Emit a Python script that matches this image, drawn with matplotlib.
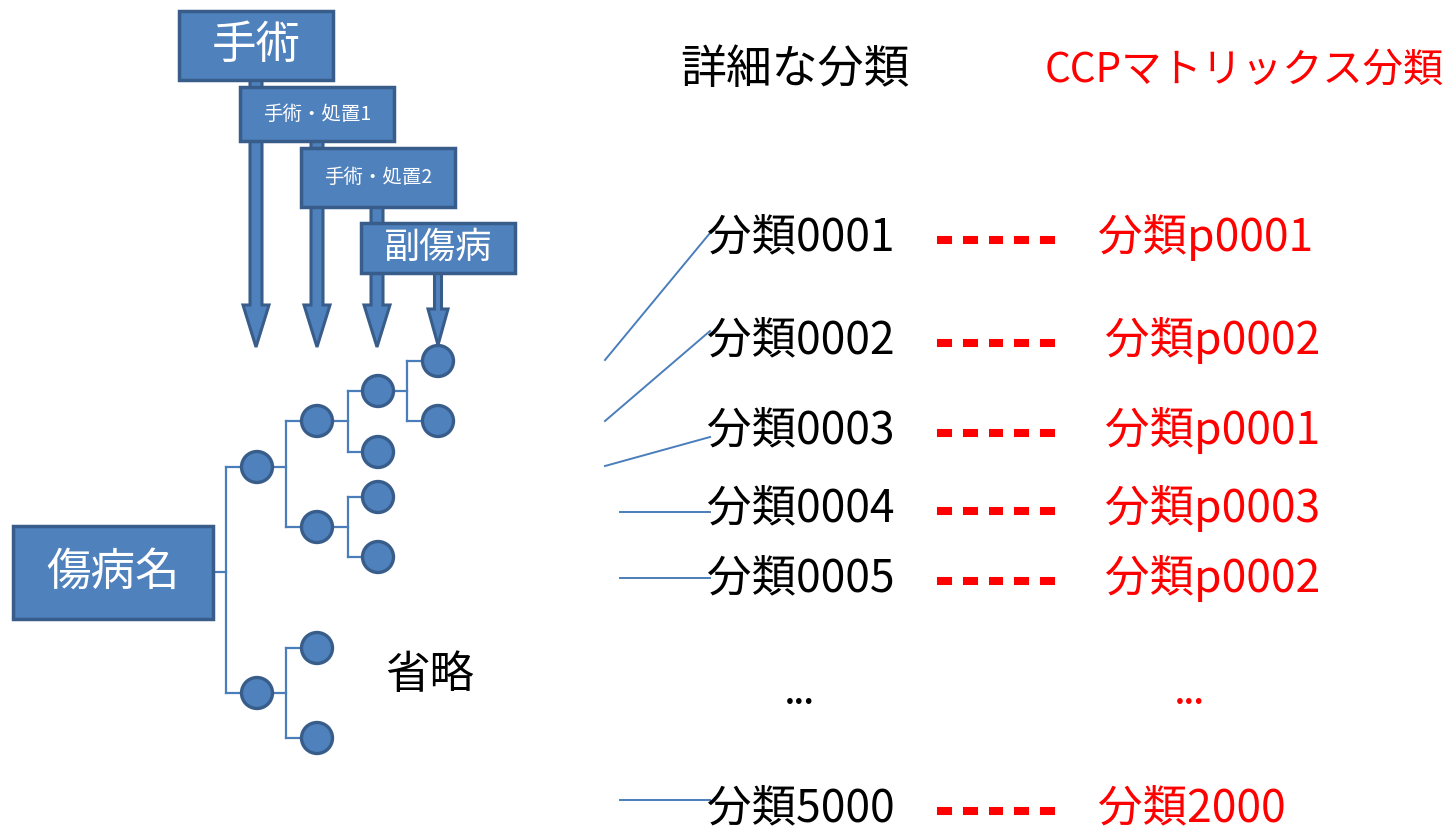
import matplotlib
matplotlib.use("Agg")
import matplotlib.pyplot as plt
import matplotlib.patheffects as pe
from matplotlib.patches import Rectangle, Circle, FancyArrow

plt.rcParams['font.family'] = ['Noto Sans CJK JP', 'DejaVu Sans']

# データ
box_labels = ["手術", "手術・処置1", "手術・処置2", "副傷病"]
root_label = "傷病名"
omit_label = "省略"
col_titles = ["詳細な分類", "CCPマトリックス分類"]
class_labels = ["分類0001", "分類0002", "分類0003", "分類0004", "分類0005", "...", "分類5000"]
ccp_labels = ["分類p0001", "分類p0002", "分類p0001", "分類p0003", "分類p0002", "...", "分類2000"]
link_text = "- - - - -"

# 色
fill_c = "#4F81BD"
edge_c = "#385D8A"
line_c = "#4A7EBB"

fig = plt.figure(figsize=(14.44, 8.30), dpi=100)
ax = fig.add_axes([0, 0, 1, 1])
ax.set_xlim(0, 1444)
ax.set_ylim(830, 0)
ax.axis("off")

# 上の箱 (x, y, w, h, 文字サイズ)
box_geom = [(179, 11, 154, 69, 32), (240, 87, 154, 54, 14),
            (301, 148, 154, 59, 14), (361, 223, 154, 50, 26)]

# 矢印 (x, 始点y, 終点y, 幅, 頭幅, 頭長)
arrow_geom = [(256, 80, 347, 12, 26, 42), (317, 141, 347, 12, 26, 42),
              (377, 207, 347, 12, 26, 42), (438, 273, 345, 7, 20, 36)]

for x, y0, y1, w, hw, hl in arrow_geom:
    ax.add_patch(FancyArrow(x, y0, 0, y1 - y0, width=w, head_width=hw,
                            head_length=hl, length_includes_head=True,
                            facecolor=fill_c, edgecolor=edge_c, linewidth=2.2, zorder=2))

for (x, y, w, h, fs), lab in zip(box_geom, box_labels):
    ax.add_patch(Rectangle((x, y), w, h, facecolor=fill_c, edgecolor=edge_c,
                           linewidth=2.5, zorder=3))
    ax.text(x + w / 2, y + h / 2, lab, color="white", fontsize=fs,
            ha="center", va="center", zorder=4)

# 傷病名の箱
ax.add_patch(Rectangle((13, 526), 200, 93, facecolor=fill_c, edgecolor=edge_c,
                       linewidth=2.5, zorder=3))
ax.text(113, 572, root_label, color="white", fontsize=32, ha="center", va="center", zorder=4)

# 木構造 (親, 分岐x, 子のリスト)
tree = [
    ((213, 572), 226, [(257, 467), (257, 693)]),
    ((257, 467), 286, [(317, 421), (317, 527)]),
    ((257, 693), 286, [(317, 648), (317, 738)]),
    ((317, 421), 348, [(378, 391), (378, 452)]),
    ((317, 527), 348, [(378, 497), (378, 557)]),
    ((378, 391), 407, [(438, 361), (438, 421)]),
]
nodes = []
for (px, py), mx, kids in tree:
    ax.plot([px, mx], [py, py], color=line_c, lw=1.6, zorder=1)
    ys = [k[1] for k in kids]
    ax.plot([mx, mx], [min(ys), max(ys)], color=line_c, lw=1.6, zorder=1)
    for kx, ky in kids:
        ax.plot([mx, kx], [ky, ky], color=line_c, lw=1.6, zorder=1)
        nodes.append((kx, ky))
for kx, ky in nodes:
    ax.add_patch(Circle((kx, ky), 15.5, facecolor=fill_c, edgecolor=edge_c,
                        linewidth=2.4, zorder=3))

ax.text(385, 675, omit_label, fontsize=32, ha="left", va="center", color="black")

# 右側
ax.text(680, 70, col_titles[0], fontsize=33, ha="left", va="center", color="black")
ax.text(1045, 70, col_titles[1], fontsize=29, ha="left", va="center", color="red")

row_y = [237, 340, 430, 508, 578, 695, 808]
ccp_x = [1098, 1105, 1105, 1105, 1105, 1175, 1098]
link_start = [(605, 360), (605, 421), (605, 466), (620, 512), (620, 578), None, (620, 800)]
link_end_dy = [-4, -9, 7, 4, 0, 0, -8]
thick = [pe.withStroke(linewidth=2.2, foreground="red", capstyle="butt", joinstyle="miter")]

for i, (lab, clab) in enumerate(zip(class_labels, ccp_labels)):
    y = row_y[i]
    if lab == "...":
        ax.text(800, y, lab, fontsize=22, fontweight="bold", ha="center", va="center", color="black")
        ax.text(1190, y, clab, fontsize=22, fontweight="bold", ha="center", va="center", color="red")
        continue
    ax.text(707, y, lab, fontsize=32, ha="left", va="center", color="black")
    ax.text(936, y + 2, link_text, fontsize=31, fontweight="bold",
            ha="left", va="center", color="red", path_effects=thick)
    ax.text(ccp_x[i], y, clab, fontsize=32, ha="left", va="center", color="red")
    sx, sy = link_start[i]
    ax.plot([sx, 710], [sy, y + link_end_dy[i]], color=line_c, lw=1.4, zorder=1)

fig.savefig("out.png", dpi=100)
